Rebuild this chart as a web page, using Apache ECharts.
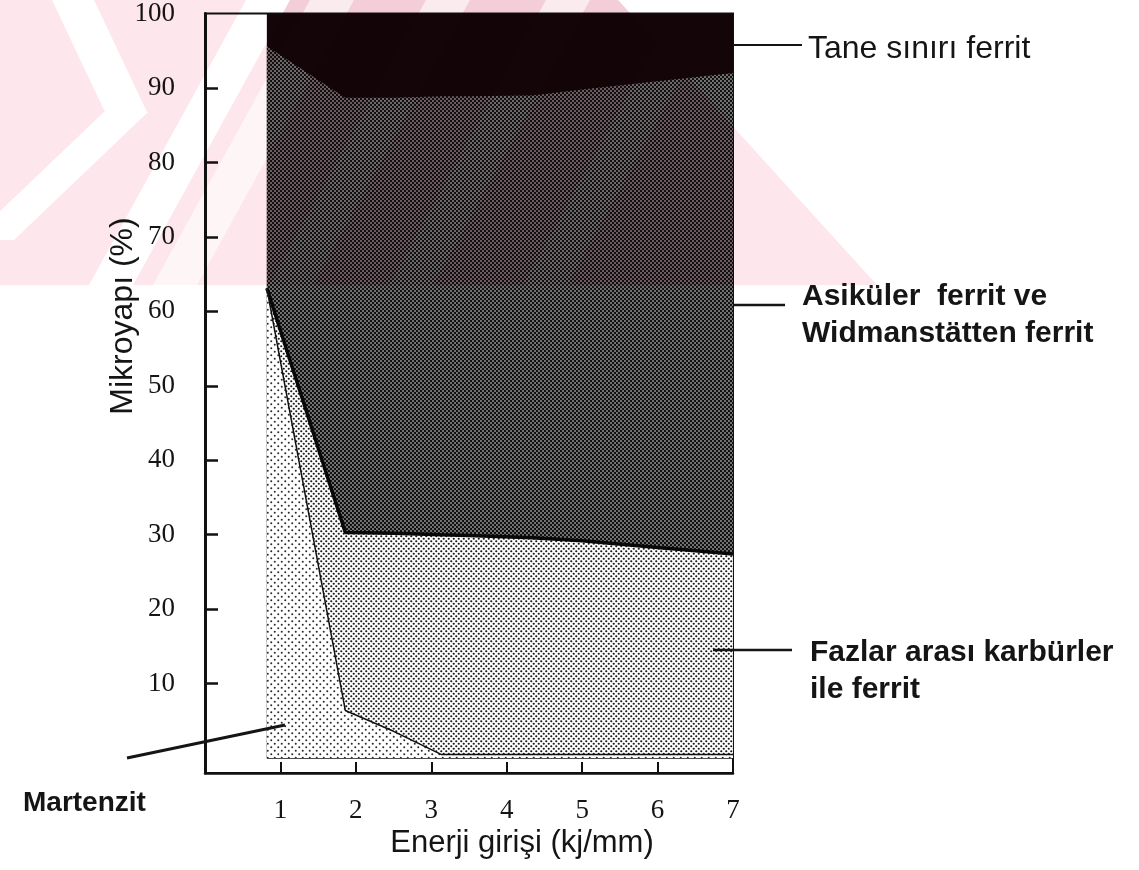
<!DOCTYPE html>
<html>
<head>
<meta charset="utf-8">
<title>Mikroyapı – Enerji girişi</title>
<script src="https://cdn.jsdelivr.net/npm/echarts@6/dist/echarts.min.js"></script>
<style>
  html, body { margin: 0; padding: 0; background: #ffffff; }
  #chart { width: 1139px; height: 870px; }
</style>
</head>
<body>
<div id="chart"></div>
<script>
// Energy input (kJ/mm) at which the phase fractions were read
const energy = [0.82, 1.86, 2.5, 3.13, 3.5, 4.34, 5, 6, 7];

// Phase fractions (%), listed from the bottom layer up
const martenzit   = [63.1, 6.4, 3.6, 0.5, 0.5, 0.5, 0.5, 0.5, 0.5];
const fazlarArasi = [0, 23.9, 26.6, 29.5, 29.4, 29.1, 28.7, 27.8, 26.9];
const asikuler    = [32.5, 58.4, 58.5, 58.9, 59.0, 59.4, 60.6, 62.6, 64.6];
const taneSiniri  = [4.4, 11.3, 11.3, 11.1, 11.1, 11.0, 10.2, 9.1, 8.0];

// Axis ticks and labels
const xTickValues  = [1, 2, 3, 4, 5, 6];
const xLabelValues = [1, 2, 3, 4, 5, 6, 7];
const yTickValues  = [10, 20, 30, 40, 50, 60, 70, 80, 90];
const yLabelValues = [10, 20, 30, 40, 50, 60, 70, 80, 90, 100];

const SERIF = '"Liberation Serif", "Times New Roman", serif';
const SANS = '"Liberation Sans", Arial, sans-serif';
const INK = '#151515';

// Small halftone tile used as a repeating fill
function halftone(size, bg, fg, r) {
  const c = document.createElement('canvas');
  c.width = size; c.height = size;
  const g = c.getContext('2d');
  g.fillStyle = bg;
  g.fillRect(0, 0, size, size);
  g.fillStyle = fg;
  [[size / 4, size / 4], [3 * size / 4, 3 * size / 4]].forEach(([x, y]) => {
    g.beginPath();
    g.arc(x, y, r, 0, Math.PI * 2);
    g.fill();
  });
  return c;
}

const layers = [
  { name: 'Martenzit', values: martenzit,
    fill: { image: halftone(7, '#ffffff', '#2a2a2a', 1.0), repeat: 'repeat' },
    line: { width: 1.5, color: '#111' } },
  { name: 'Fazlar arası karbürler ile ferrit', values: fazlarArasi,
    fill: { image: halftone(5, '#ffffff', '#1a1a1a', 1.1), repeat: 'repeat' },
    line: { width: 3.5, color: '#080808' } },
  { name: 'Asiküler ferrit ve Widmanstätten ferrit', values: asikuler,
    fill: { image: halftone(4, '#111111', '#ffffff', 0.78), repeat: 'repeat' },
    line: { width: 0, color: '#000' } },
  { name: 'Tane sınırı ferrit', values: taneSiniri,
    fill: '#140508',
    line: { width: 0, color: '#000' } }
];

// Running totals: each layer is drawn from 0 up to its cumulative top,
// upper layers first so the lower ones are painted over them.
const running = energy.map(() => 0);
const cumulative = layers.map(l => l.values.map((v, j) => (running[j] += v)));

const series = layers.map((l, i) => {
  const s = {
    type: 'line',
    name: l.name,
    data: energy.map((x, j) => [x, +cumulative[i][j].toFixed(2)]),
    symbol: 'none',
    showSymbol: false,
    silent: true,
    z: 2 + (layers.length - i),
    lineStyle: { width: l.line.width, color: l.line.color, opacity: l.line.width ? 1 : 0 },
    areaStyle: { color: l.fill, opacity: 1, origin: 0 }
  };
  if (i === 0) {
    // base of the filled region
    s.markLine = {
      silent: true,
      symbol: ['none', 'none'],
      label: { show: false },
      lineStyle: { type: 'solid', color: '#111', width: 1.5 },
      data: [[{ coord: [energy[0], 0] }, { coord: [energy[energy.length - 1], 0] }]]
    };
  }
  return s;
});

// Pale chevron watermark across the upper part of the page
function watermarkCanvas() {
  const W = 900, H = 285;
  const c = document.createElement('canvas');
  c.width = W; c.height = H;
  const g = c.getContext('2d');
  const poly = (pts) => {
    g.beginPath();
    g.moveTo(pts[0][0], pts[0][1]);
    pts.slice(1).forEach(p => g.lineTo(p[0], p[1]));
    g.closePath();
    g.fill();
  };
  const area = [[0, 0], [618, 0], [877, 285], [0, 285]];
  g.fillStyle = '#fde6ec';
  poly(area);
  // deeper tint where it lies over the hatched fill
  g.save();
  g.beginPath();
  g.rect(268, 0, 465, H);
  g.clip();
  g.fillStyle = '#f3ced8';
  poly(area);
  g.restore();
  // light stripes
  g.globalCompositeOperation = 'destination-out';
  g.fillStyle = '#000';
  poly([[52, 0], [94, 0], [147, 112], [105, 112]]);
  poly([[104, 112], [148, 112], [14, 240], [-30, 240]]);
  poly([[246, 0], [290, 0], [133, 285], [89, 285]]);
  g.globalAlpha = 0.6;
  [332, 448, 568, 702].forEach(cx => {
    poly([[cx - 22, 0], [cx + 22, 0], [cx - 157 + 22, H], [cx - 157 - 22, H]]);
  });
  return c;
}

function label(text, x, y, opts) {
  return {
    type: 'text', silent: true, z: 50, x, y,
    style: Object.assign({
      text, fill: INK, font: '30px ' + SANS, align: 'left', verticalAlign: 'middle'
    }, opts || {})
  };
}
function leader(x1, y1, x2, y2, w) {
  return {
    type: 'line', silent: true, z: 50,
    shape: { x1, y1, x2, y2 },
    style: { stroke: INK, lineWidth: w || 2 }
  };
}

const annotations = [
  leader(733, 45, 802, 45, 2),
  label('Tane sınırı ferrit', 808, 49, { font: '32px ' + SANS }),
  leader(733, 305, 785, 305, 2.5),
  label('Asiküler  ferrit ve', 802, 297, { font: 'bold 30px ' + SANS }),
  label('Widmanstätten ferrit', 802, 334, { font: 'bold 30px ' + SANS }),
  leader(713, 650, 792, 650, 2.5),
  label('Fazlar arası karbürler', 810, 653, { font: 'bold 30px ' + SANS }),
  label('ile ferrit', 810, 690, { font: 'bold 30px ' + SANS }),
  leader(285, 725, 127, 758, 3),
  label('Martenzit', 23, 803, { font: 'bold 28px ' + SANS }),
  label('Enerji girişi (kj/mm)', 522, 843, { font: '31px ' + SANS, align: 'center' }),
  {
    type: 'text', silent: true, z: 50, x: 123, y: 316, rotation: Math.PI / 2,
    style: { text: 'Mikroyapı (%)', fill: INK, font: '32px ' + SANS, align: 'center', verticalAlign: 'middle' }
  },
  {
    type: 'image', silent: true, z: 100, x: 0, y: 0,
    style: { image: watermarkCanvas(), width: 900, height: 285, blend: 'multiply' }
  }
];

const chart = echarts.init(document.getElementById('chart'), null, { renderer: 'canvas' });
chart.setOption({
  animation: false,
  backgroundColor: '#ffffff',
  grid: {
    left: 205, right: 406, top: 12, bottom: 97,
    show: true, borderColor: '#111', borderWidth: 2, backgroundColor: 'rgba(0,0,0,0)'
  },
  xAxis: {
    type: 'value', min: 0, max: 7, interval: 1,
    axisLine: { show: true, onZero: false, lineStyle: { color: '#111', width: 2.5 } },
    axisTick: { show: true, inside: true, length: 11, customValues: xTickValues, lineStyle: { color: '#111', width: 2 } },
    axisLabel: { customValues: xLabelValues, fontFamily: SERIF, fontSize: 27, color: INK, margin: 24 },
    splitLine: { show: false }
  },
  yAxis: {
    type: 'value', min: -2, max: 100,
    axisLine: { show: true, onZero: false, lineStyle: { color: '#111', width: 3 } },
    axisTick: { show: true, inside: true, length: 13, customValues: yTickValues, lineStyle: { color: '#111', width: 2.5 } },
    axisLabel: { customValues: yLabelValues, fontFamily: SERIF, fontSize: 27, color: INK, margin: 30 },
    splitLine: { show: false }
  },
  series,
  graphic: { elements: annotations }
});
</script>
</body>
</html>
